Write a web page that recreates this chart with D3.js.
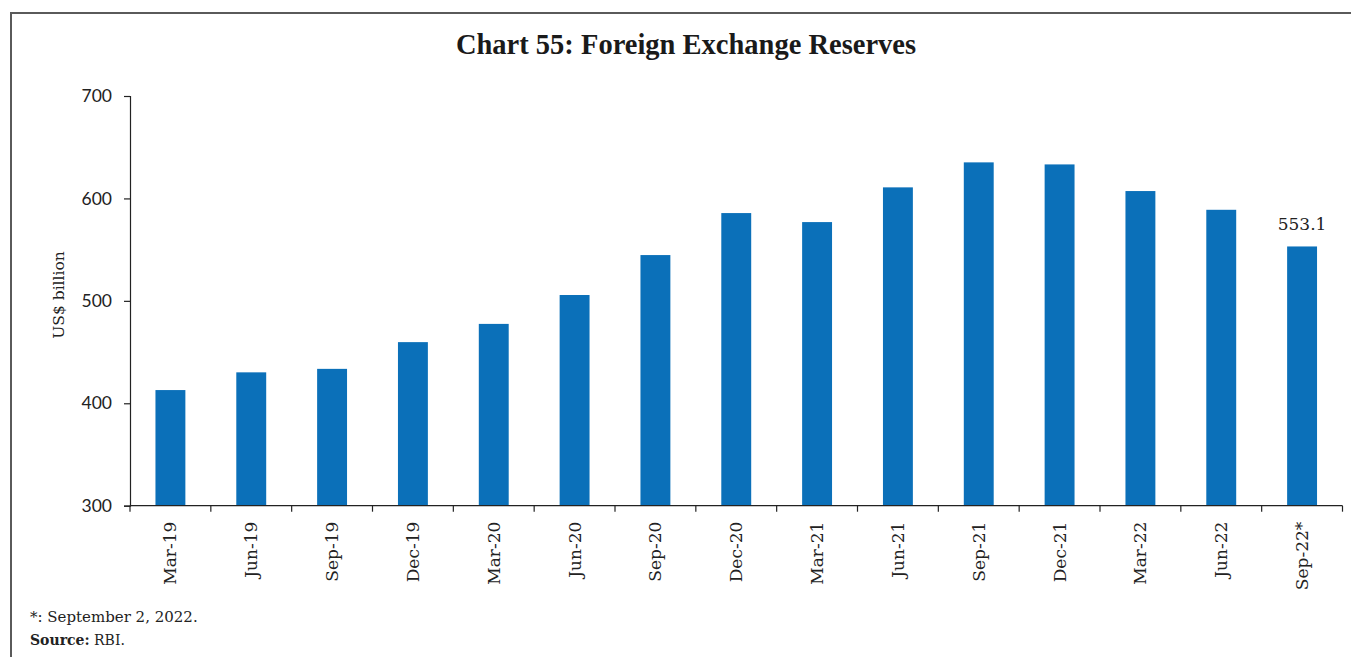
<!DOCTYPE html>
<html>
<head>
<meta charset="utf-8">
<script src="https://cdn.jsdelivr.net/npm/d3@7"></script>
<style>
  html, body { margin: 0; padding: 0; background: #fff; }
  svg { display: block; }
</style>
</head>
<body>
<svg id="chart" width="1351" height="657"></svg>
<script>
// Quarter-end foreign exchange reserves, US$ billion
const categories = ["Mar-19", "Jun-19", "Sep-19", "Dec-19", "Mar-20", "Jun-20", "Sep-20", "Dec-20",
                    "Mar-21", "Jun-21", "Sep-21", "Dec-21", "Mar-22", "Jun-22", "Sep-22*"];
const reserves = [412.9, 430.2, 433.6, 459.7, 477.5, 505.7, 544.7, 585.7,
                  576.9, 610.8, 635.2, 633.2, 607.2, 588.9, 553.1];
const yTicks = [300, 400, 500, 600, 700];
const labelledIndex = 14;

const svg = d3.select("#chart");
const W = 1351, H = 657;

// outer frame: top and left rules
svg.append("line").attr("x1", 11).attr("x2", W).attr("y1", 13).attr("y2", 13)
  .attr("stroke", "#5a5a5a").attr("stroke-width", 2);
svg.append("line").attr("x1", 11).attr("x2", 11).attr("y1", 12).attr("y2", H)
  .attr("stroke", "#5a5a5a").attr("stroke-width", 2);

svg.append("text")
  .attr("x", 686).attr("y", 54)
  .attr("text-anchor", "middle")
  .style("font-family", "'Liberation Serif', serif")
  .style("font-weight", "bold")
  .style("font-size", "28.5px")
  .attr("fill", "#1a1a1a")
  .text("Chart 55: Foreign Exchange Reserves");

const x = d3.scaleBand()
  .domain(categories)
  .range([130, 1342.5])
  .paddingInner(0.63)
  .paddingOuter(0.315);

const y = d3.scaleLinear()
  .domain([300, 700])
  .range([505.7, 96]);

const g = svg.append("g");

// bars
g.selectAll("rect.bar")
  .data(categories.map((c, i) => ({ c, v: reserves[i] })))
  .join("rect")
  .attr("class", "bar")
  .attr("x", d => x(d.c))
  .attr("width", x.bandwidth())
  .attr("y", d => y(d.v))
  .attr("height", d => y(300) - y(d.v))
  .attr("fill", "#0b70b9");

// y axis
const yAxis = g.append("g")
  .attr("transform", "translate(130,0)")
  .call(d3.axisLeft(y).tickValues(yTicks).tickSize(6).tickPadding(12).tickFormat(d3.format("d")));
yAxis.select(".domain").attr("stroke", "#222").attr("stroke-width", 1.2);
yAxis.selectAll(".tick line").attr("stroke", "#222").attr("stroke-width", 1.2);
yAxis.selectAll(".tick text")
  .style("font-family", "Lato, sans-serif")
  .style("font-size", "17.5px")
  .attr("fill", "#222");

// x axis: ticks sit on category boundaries
const xAxisG = g.append("g").attr("transform", `translate(0,${y(300)})`);
xAxisG.append("line")
  .attr("x1", 130).attr("x2", 1342.5)
  .attr("stroke", "#222").attr("stroke-width", 1.2);
const step = x.step();
const boundaries = d3.range(categories.length + 1).map(i => 130 + i * step);
xAxisG.selectAll("line.tk")
  .data(boundaries)
  .join("line")
  .attr("class", "tk")
  .attr("x1", d => d).attr("x2", d => d)
  .attr("y1", 0).attr("y2", 6)
  .attr("stroke", "#222").attr("stroke-width", 1.2);
xAxisG.selectAll("text.cat")
  .data(categories)
  .join("text")
  .attr("class", "cat")
  .attr("transform", d => `translate(${x(d) + x.bandwidth() / 2 + 6},16) rotate(-90)`)
  .attr("text-anchor", "end")
  .style("font-family", "'DejaVu Serif', serif")
  .style("font-size", "17px")
  .attr("fill", "#222")
  .text(d => d);

// y axis title
svg.append("text")
  .attr("transform", "translate(64,295) rotate(-90)")
  .attr("text-anchor", "middle")
  .style("font-family", "'DejaVu Serif', serif")
  .style("font-size", "15.5px")
  .attr("fill", "#222")
  .text("US$ billion");

// value label on the latest bar
const lc = categories[labelledIndex];
g.append("text")
  .attr("x", x(lc) + x.bandwidth() / 2)
  .attr("y", y(reserves[labelledIndex]) - 16)
  .attr("text-anchor", "middle")
  .style("font-family", "'DejaVu Serif', serif")
  .style("font-size", "17px")
  .attr("fill", "#222")
  .text(reserves[labelledIndex].toFixed(1));

// notes
svg.append("text")
  .attr("x", 30).attr("y", 622)
  .style("font-family", "'DejaVu Serif', serif")
  .style("font-size", "15px")
  .attr("fill", "#222")
  .text("*: September 2, 2022.");
const src = svg.append("text")
  .attr("x", 30).attr("y", 645)
  .style("font-family", "'DejaVu Serif', serif")
  .style("font-size", "14px")
  .attr("fill", "#222");
src.append("tspan").style("font-weight", "bold").text("Source:");
src.append("tspan").text(" RBI.");
</script>
</body>
</html>
